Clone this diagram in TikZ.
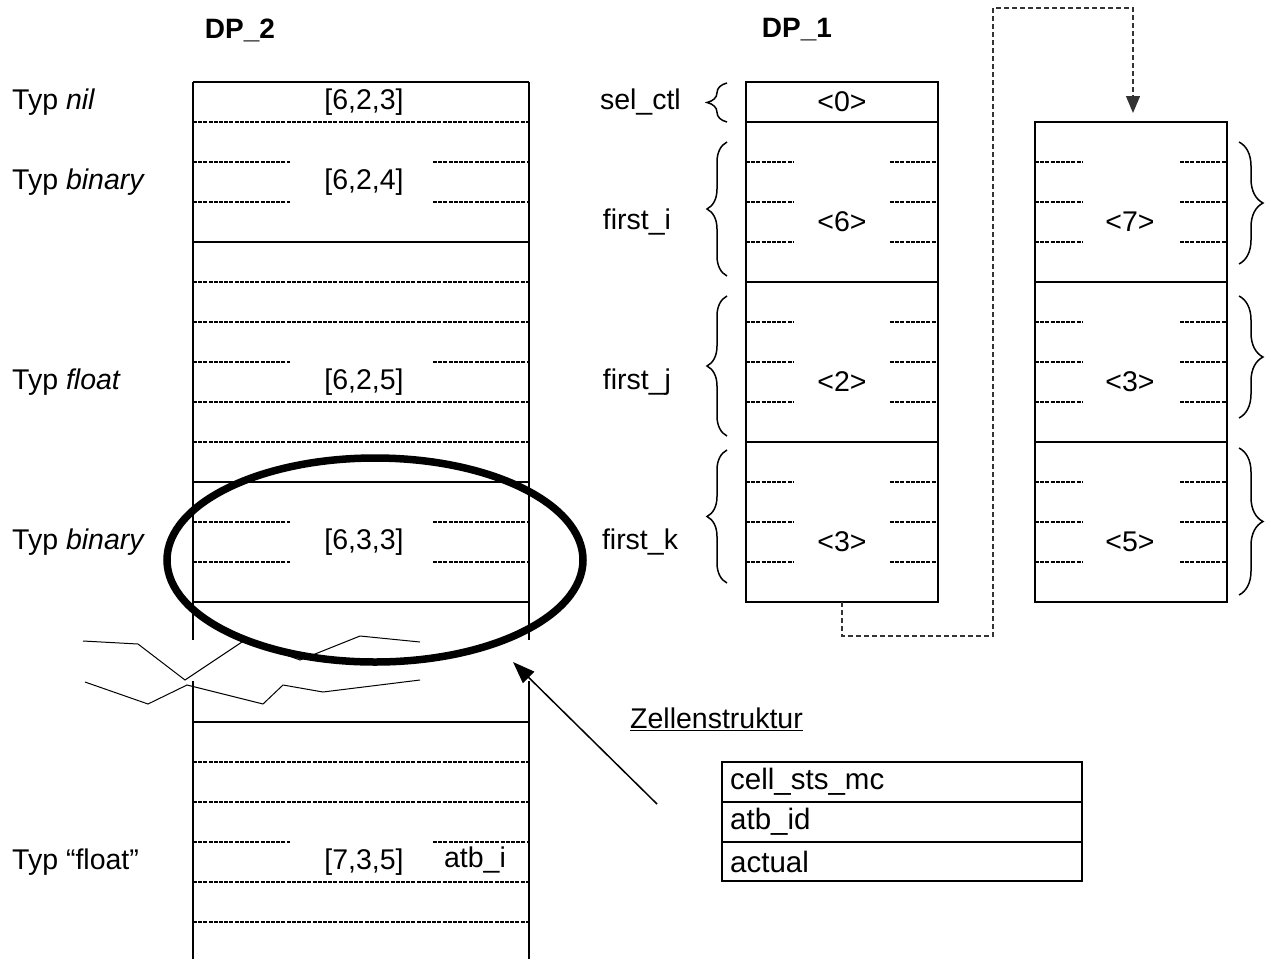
\documentclass[tikz,border=0pt]{standalone}
\usepackage{fontspec}
\setmainfont{Liberation Sans}
\usetikzlibrary{decorations.pathreplacing,arrows.meta}

\tikzset{
  txt/.style={font=\fontsize{28.5}{33}\selectfont, inner sep=0pt},
  kopf/.style={font=\fontsize{28}{33}\selectfont\bfseries, inner sep=0pt},
  tab/.style={font=\fontsize{29.5}{34}\selectfont, inner sep=0pt, anchor=west},
  wand/.style={line width=2pt},
  feld/.style={line width=1.4pt, dash pattern=on 4pt off 1.2pt},
  klammer/.style={decorate, decoration={brace, amplitude=20pt}, line width=1.5pt},
  verweis/.style={line width=1.3pt, black!80, dash pattern=on 5pt off 3pt},
}

\begin{document}
\begin{tikzpicture}[x=1pt,y=-1pt]
\useasboundingbox (0,0) rectangle (1271,959);
% Ueberschriften
\node[kopf] (dp2) at (240,30) {DP\_2};
\node[kopf] (dp1) at (797,30) {DP\_1};
% DP_2 Zellen
\draw[wand] (193,82) -- (193,640) (529,82) -- (529,640);
\draw[wand] (193,681) -- (193,959) (529,681) -- (529,959);
\foreach \y in {82,242,482,602,722}
  \draw[wand] (193,\y) -- (529,\y);
\foreach \y in {122,282,322,402,442,762,802,882,922}
  \draw[feld] (193,\y) -- (529,\y);
\foreach \y in {162,202,362,522,562,842}
  \draw[feld] (193,\y) -- (290,\y) (433,\y) -- (529,\y);
\node[txt] (w1) at (364,102) {[6,2,3]};
\node[txt] (w2) at (364,182) {[6,2,4]};
\node[txt] (w3) at (364,382) {[6,2,5]};
\node[txt] (w4) at (364,542) {[6,3,3]};
\node[txt] (w5) at (364,862) {[7,3,5]};
\node[txt] (atbi) at (475,860) {atb\_i};
% Typen
\node[txt,anchor=west] (t1) at (12,102) {Typ \textit{nil}};
\node[txt,anchor=west] (t2) at (12,182) {Typ \textit{binary}};
\node[txt,anchor=west] (t3) at (12,382) {Typ \textit{float}};
\node[txt,anchor=west] (t4) at (12,542) {Typ \textit{binary}};
\node[txt,anchor=west] (t5) at (12,862) {Typ “float”};
% Bruchstelle
\draw[line width=1pt] (83,641) -- (138,644) -- (185,680) -- (245,640) -- (300,660) -- (360,636) -- (420,642);
\draw[line width=1pt] (85,682) -- (148,704) -- (187,685) -- (263,704) -- (283,685) -- (323,692) -- (420,680);
\draw[line width=7.5pt] (375,560) ellipse [x radius=208pt, y radius=102pt];
\coordinate (kreis) at (513,662);
% DP_1 Zellen
\draw[wand] (746,82) rectangle (938,602);
\draw[wand] (1035,122) rectangle (1227,602);
\foreach \y in {122,282,442}
  \draw[wand] (746,\y) -- (938,\y);
\foreach \y in {282,442}
  \draw[wand] (1035,\y) -- (1227,\y);
\foreach \y in {162,202,242,322,362,402,482,522,562} {
  \draw[feld] (746,\y) -- (793,\y) (890,\y) -- (938,\y);
  \draw[feld] (1035,\y) -- (1082,\y) (1180,\y) -- (1227,\y);
}
\node[txt] (a0) at (842,102) {<0>};
\node[txt] (a6) at (842,222) {<6>};
\node[txt] (a2) at (842,382) {<2>};
\node[txt] (a3) at (842,542) {<3>};
\node[txt] (b7) at (1130,222) {<7>};
\node[txt] (b3) at (1130,382) {<3>};
\node[txt] (b5) at (1130,542) {<5>};
% Klammern
\draw[klammer] (727,122) -- (727,83);
\draw[klammer] (727,276) -- (727,142);
\draw[klammer] (727,436) -- (727,296);
\draw[klammer] (727,583) -- (727,450);
\draw[klammer, decoration={amplitude=24pt}] (1239,142) -- (1239,264);
\draw[klammer, decoration={amplitude=24pt}] (1239,296) -- (1239,418);
\draw[klammer, decoration={amplitude=24pt}] (1239,448) -- (1239,595);
\node[txt,anchor=east] (sel) at (681,102) {sel\_ctl};
\node[txt] (fi) at (637,222) {first\_i};
\node[txt] (fj) at (637,382) {first\_j};
\node[txt] (fk) at (640,542) {first\_k};
% Verweis
\coordinate (dp1unten) at (842,602);
\coordinate (dp1b) at (1133,113);
\draw[verweis,-{Triangle[length=17pt,width=14pt]}] (dp1unten) -- (842,636) -- (993,636) -- (993,8) -- (1133,8) -- (dp1b);
% Zellenstruktur
\node[txt,anchor=west] (zs) at (630,719) {\underline{Zellenstruktur}};
\draw[wand] (722,762) rectangle (1082,881);
\draw[wand] (722,802) -- (1082,802) (722,842) -- (1082,842);
\node[tab] (c1) at (730,782) {cell\_sts\_mc};
\node[tab] (c2) at (730,822) {atb\_id};
\node[tab] (c3) at (730,862) {actual};
\coordinate (zpfeil) at (657,804);
\draw[line width=1.5pt,-{Triangle[length=22pt,width=16pt]}] (zpfeil) -- (kreis);
\end{tikzpicture}
\end{document}
